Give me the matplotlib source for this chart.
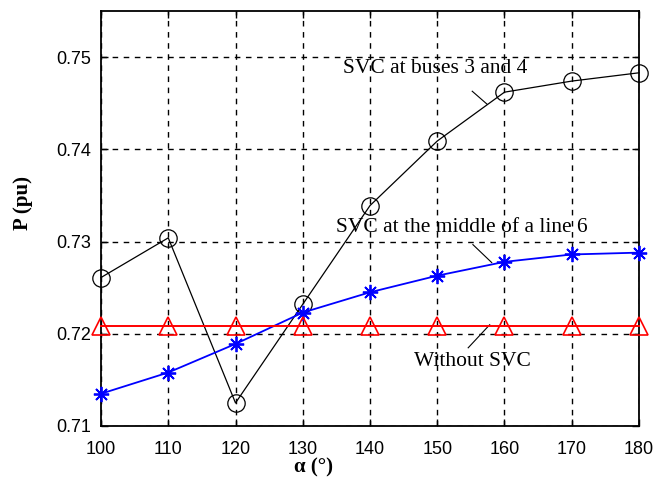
import numpy as np
import matplotlib
matplotlib.use("Agg")
import matplotlib.pyplot as plt

# firing angle (deg)
alpha = [100, 110, 120, 130, 140, 150, 160, 170, 180]

# transmitted power P (pu)
p_buses34 = [0.7261, 0.7304, 0.7125, 0.7232, 0.7339, 0.7409, 0.7462, 0.7474, 0.7483]
p_middle = [0.7135, 0.7158, 0.7189, 0.7223, 0.7245, 0.7263, 0.7278, 0.7286, 0.7288]
p_without = [0.7208] * 9

x_ticks = [100, 110, 120, 130, 140, 150, 160, 170, 180]
y_ticks = [0.71, 0.72, 0.73, 0.74, 0.75]

serif = "Liberation Serif"
sans = "Liberation Sans"

fig = plt.figure(figsize=(6.57, 4.82), dpi=100)
ax = fig.add_axes([101/657, 1 - 426/482, (639 - 101)/657, (426 - 11)/482])

ax.plot(alpha, p_buses34, color="black", lw=0.9, marker="o", ms=12.5,
        mfc="none", mec="black", mew=0.9, zorder=3, clip_on=False)
ax.plot(alpha, p_middle, color="blue", lw=1.3, marker=(8, 2, 0), ms=11,
        mec="blue", mew=1.3, zorder=3, clip_on=False)
ax.plot(alpha, p_without, color="red", lw=1.4, marker="^", ms=13,
        mfc="none", mec="red", mew=1.2, zorder=3, clip_on=False)

ax.set_xlim(100, 180)
ax.set_ylim(0.71, 0.755)
ax.set_xticks(x_ticks)
ax.set_yticks(y_ticks)
ax.set_xticklabels([str(v) for v in x_ticks], fontname=sans, fontsize=13)
ax.set_yticklabels(["%.2f" % v for v in y_ticks], fontname=sans, fontsize=13)
ax.tick_params(direction="in", length=5, width=1, colors="black")
ax.tick_params(axis="x", pad=11)
ax.tick_params(axis="y", pad=7)
ax.tick_params(top=True, right=True, labeltop=False, labelright=False)

ax.grid(True, color="black", ls=(0, (4, 4)), lw=1)
for s in ax.spines.values():
    s.set_linewidth(1.3)

ax.set_xlabel("α (°)", fontname=serif, fontweight="bold", fontsize=15, va="center")
ax.set_ylabel("P (pu)", fontname=serif, fontweight="bold", fontsize=15, va="center")
ax.xaxis.set_label_coords((314 - 101)/538, -(467 - 426)/415)
ax.yaxis.set_label_coords(-(101 - 23)/538, (426 - 203)/415)

ax.text(149.7, 0.7488, "SVC at buses 3 and 4", ha="center", va="center",
        fontname=serif, fontsize=15.5, zorder=5)
ax.plot([155.2, 157.4], [0.7463, 0.7449], color="black", lw=0.8)
ax.text(153.7, 0.7315, "SVC at the middle of a line 6", ha="center", va="center",
        fontname=serif, fontsize=15.5, zorder=5)
ax.plot([155.3, 158.1], [0.72967, 0.72772], color="black", lw=0.8)
ax.text(155.3, 0.71696, "Without SVC", ha="center", va="center",
        fontname=serif, fontsize=15.5, zorder=5)
ax.plot([154.6, 157.8], [0.71848, 0.72098], color="black", lw=0.8)

fig.savefig("out.png", dpi=100)
